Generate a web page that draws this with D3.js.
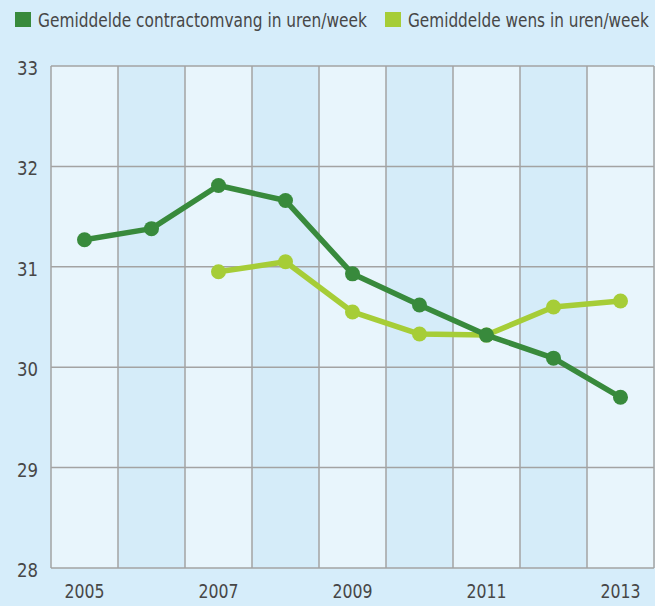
<!DOCTYPE html>
<html>
<head>
<meta charset="utf-8">
<script src="https://cdn.jsdelivr.net/npm/d3@7"></script>
<style>
  body { margin: 0; background: #d6edfa; }
  text { font-family: "DejaVu Sans Condensed", "DejaVu Sans", sans-serif; font-stretch: condensed; fill: #474747; }
</style>
</head>
<body>
<script>
// data
const years = [2005, 2006, 2007, 2008, 2009, 2010, 2011, 2012, 2013];
const contract = [31.27, 31.38, 31.81, 31.66, 30.93, 30.62, 30.32, 30.09, 29.70];
const wens = [null, null, 30.95, 31.05, 30.55, 30.33, 30.32, 30.60, 30.66];
const yTicks = [28, 29, 30, 31, 32, 33];
const xLabels = [2005, 2007, 2009, 2011, 2013];
const seriesNames = ["Gemiddelde contractomvang in uren/week", "Gemiddelde wens in uren/week"];
const colors = ["#388a3c", "#a6cd37"];

const W = 655, H = 606;
const margin = {top: 66, right: 1, bottom: 38, left: 51};

const svg = d3.select("body").append("svg")
  .attr("width", W).attr("height", H);

const x = d3.scaleBand().domain(years).range([margin.left, W - margin.right]);
const y = d3.scaleLinear().domain([28, 33]).range([H - margin.bottom, margin.top]);

// column backgrounds
svg.selectAll(".col").data(years).enter().append("rect")
  .attr("x", d => x(d)).attr("y", y(33))
  .attr("width", x.bandwidth()).attr("height", y(28) - y(33))
  .attr("fill", (d, i) => i % 2 === 0 ? "#e8f5fc" : "#d5ecf9");

// grid
const gridColor = "#a3a3a3";
svg.selectAll(".hg").data(yTicks).enter().append("line")
  .attr("x1", margin.left).attr("x2", W - margin.right)
  .attr("y1", d => y(d)).attr("y2", d => y(d))
  .attr("stroke", gridColor).attr("stroke-width", 1.5);
svg.selectAll(".vg").data(years.concat(["end"])).enter().append("line")
  .attr("x1", (d, i) => i < years.length ? x(d) : x(years[years.length - 1]) + x.bandwidth())
  .attr("x2", (d, i) => i < years.length ? x(d) : x(years[years.length - 1]) + x.bandwidth())
  .attr("y1", y(33)).attr("y2", y(28))
  .attr("stroke", gridColor).attr("stroke-width", 1.5);

// y labels
svg.selectAll(".yl").data(yTicks).enter().append("text")
  .attr("x", 38).attr("y", d => y(d) + 9)
  .attr("text-anchor", "end")
  .attr("textLength", 21).attr("lengthAdjust", "spacingAndGlyphs")
  .style("font-size", "20px")
  .text(d => d);

// x labels
svg.selectAll(".xl").data(xLabels).enter().append("text")
  .attr("x", d => x(d) + x.bandwidth() / 2).attr("y", 598)
  .attr("text-anchor", "middle")
  .attr("textLength", 40).attr("lengthAdjust", "spacingAndGlyphs")
  .style("font-size", "20px")
  .text(d => d);

// lines
const line = d3.line()
  .defined(d => d.v != null)
  .x(d => x(d.year) + x.bandwidth() / 2)
  .y(d => y(d.v));

[wens, contract].forEach((vals, k) => {
  const idx = k === 0 ? 1 : 0;
  const pts = years.map((yr, i) => ({year: yr, v: vals[i]}));
  svg.append("path").datum(pts)
    .attr("d", line)
    .attr("fill", "none")
    .attr("stroke", colors[idx])
    .attr("stroke-width", 5.5)
    .attr("stroke-linejoin", "round");
  svg.selectAll(".dot" + idx).data(pts.filter(d => d.v != null)).enter().append("circle")
    .attr("cx", d => x(d.year) + x.bandwidth() / 2)
    .attr("cy", d => y(d.v))
    .attr("r", 7.5)
    .attr("fill", colors[idx]);
});

// legend (text squeezed horizontally to fit, like the condensed original font)
const legendX = [15, 385];
const legendLen = [329, 241];
seriesNames.forEach((name, i) => {
  svg.append("rect")
    .attr("x", legendX[i]).attr("y", 12)
    .attr("width", 16).attr("height", 15)
    .attr("fill", colors[i]);
  const t = svg.append("text")
    .style("font-size", "19px")
    .text(name);
  const natural = t.node().getComputedTextLength();
  t.attr("transform", "translate(" + (legendX[i] + 23) + ",27) scale(" + (legendLen[i] / natural) + ",1)");
});
</script>
</body>
</html>
